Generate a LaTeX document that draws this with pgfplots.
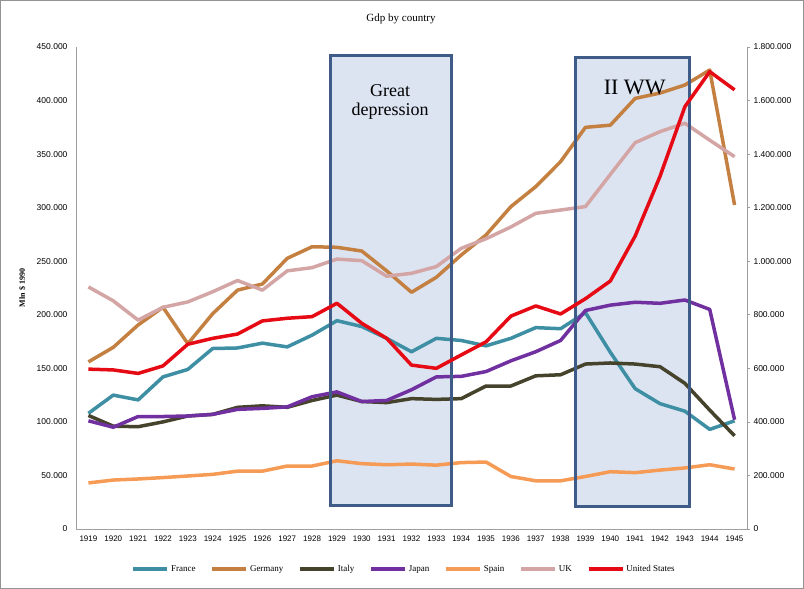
\documentclass[border=0pt]{standalone}
\usepackage{pgfplots}
\pgfplotsset{compat=1.18}
\usepackage{fontspec}
\setmainfont{Liberation Serif}
\newfontfamily\tickfont{Liberation Sans}

\definecolor{cFrance}{RGB}{62,143,163}
\definecolor{cGermany}{RGB}{196,128,64}
\definecolor{cItaly}{RGB}{70,67,45}
\definecolor{cJapan}{RGB}{112,48,160}
\definecolor{cSpain}{RGB}{245,155,85}
\definecolor{cUK}{RGB}{212,165,165}
\definecolor{cUS}{RGB}{230,10,20}
\definecolor{boxfill}{RGB}{220,228,242}
\definecolor{boxline}{RGB}{62,92,135}

\pgfplotsset{
  france/.style={color=cFrance, line width=3.5pt, line join=round, no markers},
  germany/.style={color=cGermany, line width=3.5pt, line join=round, no markers},
  italy/.style={color=cItaly, line width=3.5pt, line join=round, no markers},
  japan/.style={color=cJapan, line width=3.5pt, line join=round, no markers},
  spain/.style={color=cSpain, line width=3.5pt, line join=round, no markers},
  uk/.style={color=cUK, line width=3.5pt, line join=round, no markers},
  us/.style={color=cUS, line width=3.5pt, line join=round, no markers},
  common/.style={
    at={(76pt,60pt)}, anchor=south west,
    width=671pt, height=482pt, scale only axis,
    xmin=1918.5, xmax=1945.5, ymin=0,
    scaled y ticks=false,
    /pgf/number format/assume math mode=true,
    ticklabel style={font=\tickfont\fontsize{8.5}{10}\selectfont},
    yticklabel style={/pgf/number format/fixed, /pgf/number format/1000 sep={.}},
    xticklabel style={/pgf/number format/1000 sep={}},
    axis line style={draw=gray!75, line width=0.9pt},
  },
}

\begin{document}
\begin{tikzpicture}
\useasboundingbox (0,0) rectangle (804pt,589pt);
\draw[gray!85, line width=1.2pt] (0.6pt,0.6pt) rectangle (803.4pt,588.4pt);
\node[font=\fontsize{11}{13}\selectfont] at (401pt,570pt) {Gdp by country};

\begin{axis}[common,
  ymax=450000,
  xtick={1919,...,1945},
  ytick={0,50000,...,450000},
  axis x line*=bottom, axis y line*=left,
  major tick length=0pt,
  yticklabel style={xshift=-5pt},
  xticklabel style={yshift=-3pt, font=\tickfont\fontsize{8}{10}\selectfont},
  ylabel={Mln \$ 1990},
  ylabel style={font=\bfseries\fontsize{8}{9}\selectfont, at={(axis description cs:-0.07,0.5)}},
]
\fill[boxfill] (axis cs:1928.73,22400) rectangle (axis cs:1933.62,441600);
\fill[boxfill] (axis cs:1938.59,20800) rectangle (axis cs:1943.17,440400);

\addplot[france] coordinates {(1919,108000) (1920,125000) (1921,120500) (1922,142000) (1923,149000) (1924,168500) (1925,169000) (1926,173500) (1927,170000) (1928,181000) (1929,194500) (1930,189000) (1931,178000) (1932,165500) (1933,178000) (1934,176000) (1935,171000) (1936,178000) (1937,188000) (1938,187000) (1939,202000) (1940,165000) (1941,131000) (1942,117000) (1943,110000) (1944,93000) (1945,101000)};
\addplot[germany] coordinates {(1919,156000) (1920,169600) (1921,190500) (1922,207000) (1923,173000) (1924,201000) (1925,223000) (1926,228700) (1927,252700) (1928,263500) (1929,263000) (1930,259500) (1931,241000) (1932,221000) (1933,235000) (1934,255800) (1935,274500) (1936,301000) (1937,319600) (1938,343000) (1939,375000) (1940,377000) (1941,402000) (1942,407000) (1943,414500) (1944,428500) (1945,302500)};
\addplot[italy] coordinates {(1919,106000) (1920,96000) (1921,95500) (1922,100000) (1923,105500) (1924,107000) (1925,113600) (1926,115000) (1927,113600) (1928,120000) (1929,125000) (1930,119000) (1931,118000) (1932,121700) (1933,121000) (1934,121700) (1935,133500) (1936,133500) (1937,143000) (1938,144000) (1939,154000) (1940,155000) (1941,154000) (1942,151500) (1943,136000) (1944,111000) (1945,87000)};
\addplot[japan] coordinates {(1919,101000) (1920,95000) (1921,105000) (1922,105000) (1923,105500) (1924,107000) (1925,111700) (1926,112600) (1927,114000) (1928,123500) (1929,128000) (1930,119000) (1931,120000) (1932,130000) (1933,142000) (1934,142500) (1935,147000) (1936,157000) (1937,165500) (1938,176000) (1939,204000) (1940,209000) (1941,211700) (1942,210700) (1943,213800) (1944,205000) (1945,102000)};
\addplot[spain] coordinates {(1919,43000) (1920,45700) (1921,46700) (1922,48000) (1923,49500) (1924,51000) (1925,54000) (1926,54000) (1927,58800) (1928,58800) (1929,63700) (1930,61000) (1931,60000) (1932,60600) (1933,59600) (1934,62000) (1935,62500) (1936,49000) (1937,45000) (1938,45000) (1939,49000) (1940,53500) (1941,52600) (1942,55000) (1943,57000) (1944,60000) (1945,56000)};
\addplot[uk] coordinates {(1919,226000) (1920,213000) (1921,195000) (1922,207000) (1923,212000) (1924,221500) (1925,232000) (1926,223000) (1927,241000) (1928,244000) (1929,252000) (1930,250500) (1931,236000) (1932,238700) (1933,245000) (1934,262000) (1935,271000) (1936,282000) (1937,294700) (1938,297800) (1939,301000) (1940,331000) (1941,360700) (1942,371000) (1943,378800) (1944,363000) (1945,347600)};

\draw[boxline, line width=3pt] (axis cs:1928.73,22400) rectangle (axis cs:1933.62,441600);
\draw[boxline, line width=3pt] (axis cs:1938.59,20800) rectangle (axis cs:1943.17,440400);
\node[font=\fontsize{18}{19}\selectfont, align=center, text=black] at (axis cs:1931.14,398600) {Great\\depression};
\node[font=\fontsize{22}{24}\selectfont, text=black] at (axis cs:1940.98,412600) {II WW};
\end{axis}

\begin{axis}[common,
  ymax=1800000,
  axis x line=none, axis y line*=right,
  ytick={0,200000,...,1800000},
  ytick align=outside, major tick length=3pt,
  ytick style={draw=gray!75, line width=0.6pt},
  legend style={at={(0.489,-0.083)}, anchor=center, draw=none, fill=none,
    legend columns=7, font=\fontsize{9}{10}\selectfont,
    /tikz/every even column/.append style={column sep=13pt},
    nodes={inner xsep=2pt}},
  legend image code/.code={\draw[#1] (0pt,0pt) -- (34pt,0pt);},
]
\addlegendimage{france}\addlegendentry{France}
\addlegendimage{germany}\addlegendentry{Germany}
\addlegendimage{italy}\addlegendentry{Italy}
\addlegendimage{japan}\addlegendentry{Japan}
\addlegendimage{spain}\addlegendentry{Spain}
\addlegendimage{uk}\addlegendentry{UK}
\addplot[us] coordinates {(1919,597000) (1920,594000) (1921,581000) (1922,609000) (1923,690000) (1924,712000) (1925,728000) (1926,777000) (1927,787000) (1928,793000) (1929,843000) (1930,768000) (1931,712000) (1932,612000) (1933,600000) (1934,650000) (1935,699000) (1936,795000) (1937,833000) (1938,803000) (1939,860000) (1940,926000) (1941,1094000) (1942,1317000) (1943,1577000) (1944,1708000) (1945,1640000)};
\addlegendentry{United States}
\end{axis}
\end{tikzpicture}
\end{document}
